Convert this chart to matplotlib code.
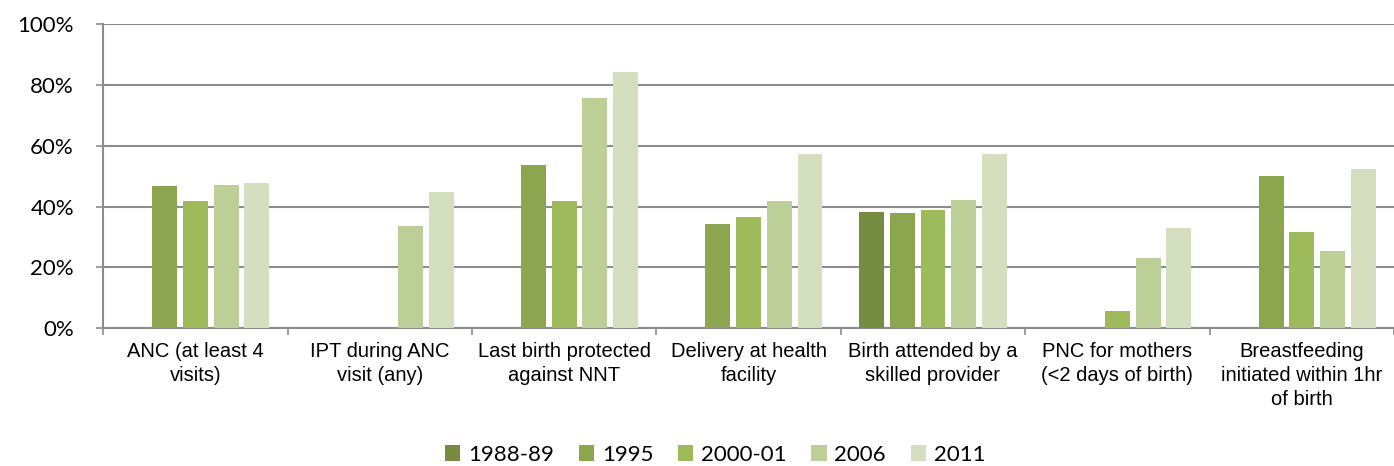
import matplotlib.pyplot as plt
import numpy as np

categories = ["ANC (at least 4\nvisits)", "IPT during ANC\nvisit (any)",
              "Last birth protected\nagainst NNT", "Delivery at health\nfacility",
              "Birth attended by a\nskilled provider", "PNC for mothers\n(<2 days of birth)",
              "Breastfeeding\ninitiated within 1hr\nof birth"]
years = ["1988-89", "1995", "2000-01", "2006", "2011"]
nan = np.nan
v1988 = [nan, nan, nan, nan, 38.2, nan, nan]
v1995 = [46.9, nan, 53.8, 34.4, 37.9, nan, 50.1]
v2000 = [41.9, nan, 41.7, 36.6, 39.0, 5.7, 31.5]
v2006 = [47.2, 33.5, 75.7, 41.8, 42.1, 23.1, 25.4]
v2011 = [47.8, 44.9, 84.4, 57.4, 57.4, 33.0, 52.5]
series = [v1988, v1995, v2000, v2006, v2011]
colors = ["#778C43", "#8BA64F", "#9DBB5A", "#BBCF96", "#D3DFBF"]

fig = plt.figure(figsize=(13.94, 4.66), dpi=100)
ax = fig.add_axes([0.074, 0.296, 0.926, 0.652])

x = np.arange(len(categories))
for i, (vals, c, lab) in enumerate(zip(series, colors, years)):
    ax.bar(x + (i - 2) / 6, vals, width=0.135, color=c, label=lab, zorder=3)

ax.set_xlim(-0.5, 6.5)
ax.set_ylim(0, 100)
ax.set_yticks(range(0, 101, 20))
ax.set_yticklabels(["{}%".format(v) for v in range(0, 101, 20)],
                   fontsize=16, family="Lato")
ax.yaxis.grid(True, color="#8c8c8c", linewidth=1.5, zorder=0)

# category labels centered, tick marks at boundaries
ax.set_xticks(x)
ax.set_xticklabels(categories, fontsize=14.5, family="Liberation Sans", linespacing=1.32)
ax.tick_params(axis="x", which="major", length=0, pad=10)
ax.set_xticks(np.arange(-0.5, 7, 1), minor=True)
ax.tick_params(axis="x", which="minor", length=5, color="#8c8c8c", width=1.2)
ax.tick_params(axis="y", length=5, color="#8c8c8c", width=1.2, pad=16)

for s in ["top", "right"]:
    ax.spines[s].set_visible(False)
for s in ["left", "bottom"]:
    ax.spines[s].set_color("#8c8c8c")
    ax.spines[s].set_linewidth(1.5)

fig.legend(loc="lower center", ncol=5, frameon=False, bbox_to_anchor=(0.513, -0.04),
           prop={"family": "Lato", "size": 16}, handlelength=0.7, handleheight=0.7,
           handletextpad=0.35, columnspacing=1.1)

plt.savefig("out.png")
